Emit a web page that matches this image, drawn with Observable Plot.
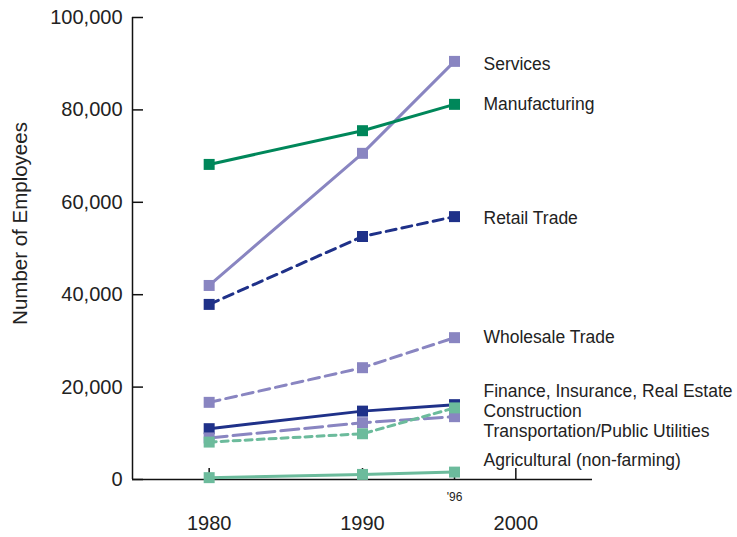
<!DOCTYPE html>
<html>
<head>
<meta charset="utf-8">
<script src="https://cdn.jsdelivr.net/npm/d3@7"></script>
<script src="https://cdn.jsdelivr.net/npm/@observablehq/plot@0.6"></script>
<style>
  html, body { margin: 0; padding: 0; background: #fff; }
  #chart svg { display: block; }
</style>
</head>
<body>
<div id="chart"></div>
<script>
// ---- Data ----
const years = [1980, 1990, 1996];
const sectors = [
  "Services",
  "Manufacturing",
  "Retail Trade",
  "Wholesale Trade",
  "Finance, Insurance, Real Estate",
  "Transportation/Public Utilities",
  "Construction",
  "Agricultural (non-farming)"
];
const services       = [42000, 70600, 90500];
const manufacturing  = [68200, 75500, 81200];
const retail         = [37900, 52600, 56900];
const wholesale      = [16700, 24200, 30700];
const finance        = [11000, 14800, 16200];
const transportation = [9000, 12300, 13600];
const construction   = [8100, 9900, 15500];
const agricultural   = [400, 1100, 1600];
const seriesValues = [services, manufacturing, retail, wholesale, finance, transportation, construction, agricultural];

const yTicks = [0, 20000, 40000, 60000, 80000, 100000];
const xTickYears = [1980, 1990, 2000];
const xTickLabels = ["1980", "1990", "2000"];
const lastYearTick = [1996];
const lastYearLabel = "'96";
const yAxisTitle = "Number of Employees";

// ---- Styles ----
const purple = "#8985c1";
const green = "#00875a";
const navy = "#1f3189";
const teal = "#6cbb9c";
const styles = {
  "Services": {color: purple, dash: null},
  "Manufacturing": {color: green, dash: null},
  "Retail Trade": {color: navy, dash: "10,6"},
  "Wholesale Trade": {color: purple, dash: "11,6"},
  "Finance, Insurance, Real Estate": {color: navy, dash: null},
  "Transportation/Public Utilities": {color: purple, dash: "18,6"},
  "Construction": {color: teal, dash: "7,5"},
  "Agricultural (non-farming)": {color: teal, dash: null}
};
// label anchors (in employee units) so the end labels don't collide
const labelAt = {
  "Services": 89800,
  "Manufacturing": 81200,
  "Retail Trade": 56500,
  "Wholesale Trade": 30700,
  "Finance, Insurance, Real Estate": 19100,
  "Construction": 14700,
  "Transportation/Public Utilities": 10400,
  "Agricultural (non-farming)": 4100
};

const rows = sectors.flatMap((s, i) => years.map((yr, j) => ({sector: s, year: yr, value: seriesValues[i][j]})));
const labels = sectors.map((s, i) => ({sector: s, year: years[years.length - 1], value: labelAt[s]}));

const font = "'Liberation Sans', Arial, Helvetica, sans-serif";

const seriesMarks = sectors.flatMap(s => {
  const d = rows.filter(r => r.sector === s);
  const st = styles[s];
  return [
    Plot.line(d, {x: "year", y: "value", stroke: st.color, strokeWidth: 3, strokeDasharray: st.dash}),
    Plot.dot(d, {x: "year", y: "value", symbol: "square", r: 6.2, fill: st.color, stroke: "none"})
  ];
});

const chart = Plot.plot({
  width: 737,
  height: 537,
  marginLeft: 132,
  marginRight: 145,
  marginTop: 17,
  marginBottom: 58,
  style: {fontFamily: font, background: "#fff", color: "#222"},
  x: {domain: [1975, 2005]},
  y: {domain: [0, 100000]},
  marks: [
    Plot.ruleX([1975], {stroke: "#111", strokeWidth: 1.5}),
    Plot.ruleY([0], {stroke: "#111", strokeWidth: 1.5}),
    Plot.axisY({ticks: yTicks, tickSize: -11, tickPadding: 21, tickFormat: d3.format(","), fontSize: 20, label: null, stroke: "#111", strokeWidth: 1.5, fill: "#222"}),
    Plot.axisX({ticks: [...xTickYears, ...lastYearTick], tickSize: -11, tickFormat: () => "", label: null, stroke: "#111", strokeWidth: 1.5}),
    Plot.axisX({ticks: xTickYears, tickSize: 0, tickPadding: 36, tickFormat: d => xTickLabels[xTickYears.indexOf(d)], fontSize: 20, label: null, fill: "#222"}),
    Plot.axisX({ticks: lastYearTick, tickSize: 0, tickPadding: 13, tickFormat: () => lastYearLabel, fontSize: 12, label: null, fill: "#222"}),
    Plot.text([yAxisTitle], {frameAnchor: "left", rotate: -90, textAnchor: "middle", dx: -112, dy: -25, fontSize: 20.5, fill: "#222", text: d => d}),
    ...seriesMarks,
    Plot.text(labels, {x: "year", y: "value", text: "sector", textAnchor: "start", dx: 29, fontSize: 17.5, fill: "#222"})
  ]
});
document.getElementById("chart").appendChild(chart);
</script>
</body>
</html>
